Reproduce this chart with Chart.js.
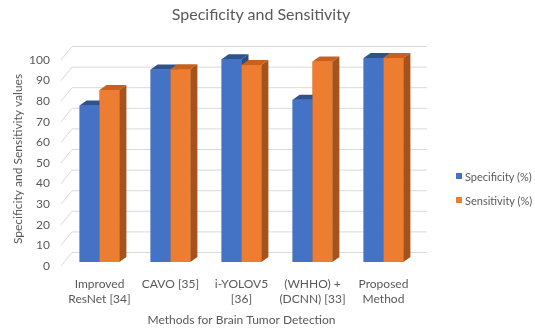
<!DOCTYPE html>
<html>

<head>
    <meta charset="utf-8">
    <script src="https://cdn.jsdelivr.net/npm/chart.js@4.4.0/dist/chart.umd.min.js"></script>
    <style>
        body {
            margin: 0;
            background: #fff;
            font-family: Lato, "Open Sans", sans-serif;
        }

        #container {
            position: relative;
            width: 535px;
            height: 331px;
        }

        #chart-title {
            position: absolute;
            top: 4px;
            left: 0;
            width: 522px;
            text-align: center;
            font-size: 16px;
            color: #595959;
        }

        #legend-container {
            position: absolute;
            left: 456px;
            top: 164px;
        }

        .legend-item {
            display: flex;
            align-items: center;
            height: 24px;
            font-size: 11px;
            color: #595959;
            white-space: nowrap;
        }

        .legend-color-box {
            width: 6px;
            height: 6px;
            margin-right: 3px;
        }
    </style>
</head>

<body>
    <div id="container">
        <canvas id="myBarChart" width="535" height="331"></canvas>
        <div id="chart-title">Specificity and Sensitivity</div>
        <div id="legend-container"></div>
    </div>

    <script>
        const methods = [["Improved", "ResNet [34]"], "CAVO [35]", ["i-YOLOV5", "[36]"], ["(WHHO) +", "(DCNN) [33]"], ["Proposed", "Method"]];
        const seriesNames = ["Specificity (%)", "Sensitivity (%)"];
        const specificity = [76, 93.4, 98.4, 78.8, 99];
        const sensitivity = [83.5, 93.6, 95.6, 97.3, 99];
        const yTicks = [0, 10, 20, 30, 40, 50, 60, 70, 80, 90, 100];

        const frontColors = ['#4472C4', '#ED7D31'];
        const topColors = ['#2F528F', '#C8611C'];
        const sideColors = ['#2B4C85', '#A5521B'];

        // fake 3d: back wall offset and bar depth
        const WALL_DX = 8, WALL_DY = 9.5;
        const BAR_DX = 7, BAR_DY = 5;

        const wallPlugin = {
            id: 'wall',
            beforeDatasetsDraw(chart) {
                const { ctx, chartArea, scales } = chart;
                ctx.save();
                ctx.strokeStyle = '#d9d9d9';
                ctx.lineWidth = 1;
                yTicks.forEach(v => {
                    const y = scales.y.getPixelForValue(v);
                    ctx.beginPath();
                    ctx.moveTo(chartArea.left - 3, y + 4);
                    ctx.lineTo(chartArea.left + WALL_DX, y - WALL_DY);
                    ctx.lineTo(chartArea.right + WALL_DX, y - WALL_DY);
                    ctx.stroke();
                });
                ctx.restore();
            }
        };

        // redraw each series in order (left bar first) with its top and side faces
        const depthPlugin = {
            id: 'depth',
            afterDatasetsDraw(chart) {
                const { ctx } = chart;
                ctx.save();
                chart.data.datasets.forEach((ds, i) => {
                    chart.getDatasetMeta(i).data.forEach(bar => {
                        const l = bar.x - bar.width / 2;
                        const r = bar.x + bar.width / 2;
                        ctx.fillStyle = frontColors[i];
                        ctx.fillRect(l, bar.y, r - l, bar.base - bar.y);
                        ctx.fillStyle = topColors[i];
                        ctx.beginPath();
                        ctx.moveTo(l, bar.y);
                        ctx.lineTo(l + BAR_DX, bar.y - BAR_DY);
                        ctx.lineTo(r + BAR_DX, bar.y - BAR_DY);
                        ctx.lineTo(r, bar.y);
                        ctx.closePath();
                        ctx.fill();
                        ctx.fillStyle = sideColors[i];
                        ctx.beginPath();
                        ctx.moveTo(r, bar.y);
                        ctx.lineTo(r + BAR_DX, bar.y - BAR_DY);
                        ctx.lineTo(r + BAR_DX, bar.base - BAR_DY);
                        ctx.lineTo(r, bar.base);
                        ctx.closePath();
                        ctx.fill();
                    });
                });
                ctx.restore();
            }
        };

        const fontFamily = 'Lato, "Open Sans", sans-serif';
        const ctx = document.getElementById('myBarChart').getContext('2d');

        const myBarChart = new Chart(ctx, {
            type: 'bar',
            data: {
                labels: methods,
                datasets: [
                    { label: seriesNames[0], data: specificity, backgroundColor: frontColors[0] },
                    { label: seriesNames[1], data: sensitivity, backgroundColor: frontColors[1] }
                ]
            },
            options: {
                responsive: false,
                animation: false,
                layout: { padding: { left: 7, right: 116, top: 56, bottom: 0 } },
                datasets: { bar: { barPercentage: 1, categoryPercentage: 0.56 } },
                plugins: { legend: { display: false }, tooltip: { enabled: false } },
                scales: {
                    x: {
                        grid: { display: false, drawTicks: false },
                        border: { display: false },
                        ticks: { color: '#595959', padding: 14, maxRotation: 0, font: { family: fontFamily, size: 12, lineHeight: 1.3 } },
                        title: { display: true, text: 'Methods for Brain Tumor Detection', color: '#595959', padding: { top: 4, bottom: 4 }, font: { family: fontFamily, size: 12 } },
                        afterFit: s => { s.height = 69; }
                    },
                    y: {
                        min: 0,
                        max: 100,
                        grid: { display: false, drawTicks: false },
                        border: { display: false },
                        afterBuildTicks: s => { s.ticks = yTicks.map(v => ({ value: v })); },
                        ticks: { color: '#595959', padding: 14, labelOffset: 4, font: { family: fontFamily, size: 12 } },
                        title: { display: true, text: 'Specificity and Sensitivity values', color: '#595959', padding: 4, font: { family: fontFamily, size: 12 } },
                        afterFit: s => { s.width = 57; }
                    }
                }
            },
            plugins: [wallPlugin, depthPlugin]
        });

        function populateLegend() {
            const legendContainer = document.getElementById('legend-container');
            seriesNames.forEach((name, index) => {
                const legendItem = document.createElement('div');
                legendItem.className = 'legend-item';
                const colorBox = document.createElement('div');
                colorBox.className = 'legend-color-box';
                colorBox.style.backgroundColor = frontColors[index];
                const labelText = document.createElement('span');
                labelText.innerText = name;
                legendItem.appendChild(colorBox);
                legendItem.appendChild(labelText);
                legendContainer.appendChild(legendItem);
            });
        }

        populateLegend();
    </script>
</body>

</html>
